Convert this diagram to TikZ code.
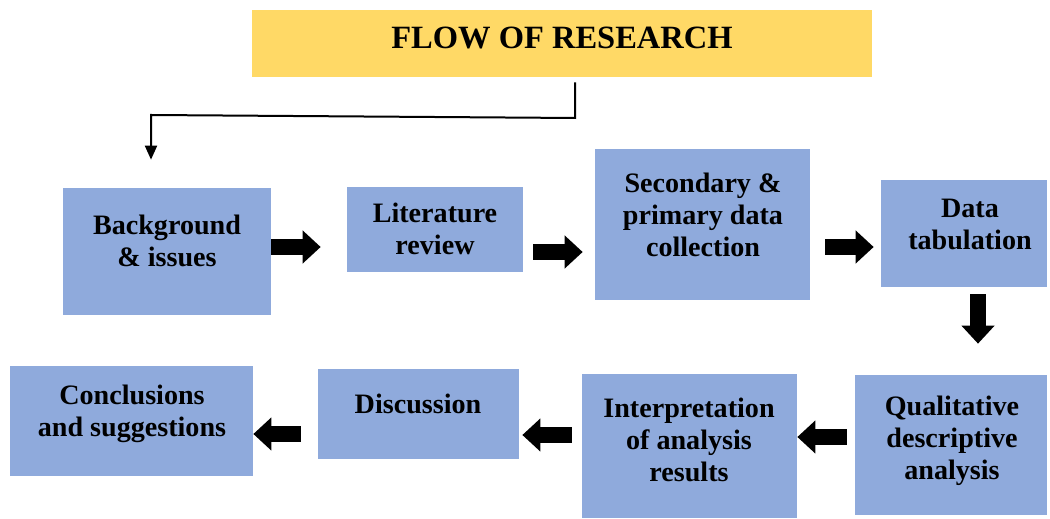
\documentclass[tikz,border=0pt]{standalone}
\usepackage{fontspec}
\setmainfont{Liberation Serif}
\usetikzlibrary{arrows.meta}

\definecolor{boxblue}{HTML}{8FAADC}
\definecolor{titleyellow}{HTML}{FFD966}

\tikzset{
  stepbox/.style={fill=boxblue, inner sep=0pt},
  steptext/.style={align=center, font=\fontsize{16}{18.2}\selectfont\bfseries},
  blockarrow/.style={line width=0.32cm, -{Triangle[length=0.36cm,width=0.64cm]}},
}

\begin{document}
\begin{tikzpicture}[x=0.02cm, y=-0.02cm]
  \useasboundingbox (0,0) rectangle (1050,519);

  % title
  \node (titlebox) [fill=titleyellow, minimum width=12.4cm, minimum height=1.34cm] at (562,43.5) {};
  \node (title) at (562,38) {\fontsize{18.5}{20}\selectfont\bfseries FLOW OF RESEARCH};

  % boxes
  \node (bgbox) [stepbox, minimum width=4.16cm, minimum height=2.54cm] at (167,251.5) {};
  \node (litbox) [stepbox, minimum width=3.52cm, minimum height=1.70cm] at (435,229.5) {};
  \node (secbox) [stepbox, minimum width=4.30cm, minimum height=3.02cm] at (702.5,224.5) {};
  \node (tabbox) [stepbox, minimum width=3.32cm, minimum height=2.14cm] at (964,233.5) {};
  \node (qualbox) [stepbox, minimum width=3.84cm, minimum height=2.80cm] at (951,445) {};
  \node (interpbox) [stepbox, minimum width=4.30cm, minimum height=2.88cm] at (689.5,446) {};
  \node (discbox) [stepbox, minimum width=4.02cm, minimum height=1.80cm] at (418.5,414) {};
  \node (conclbox) [stepbox, minimum width=4.86cm, minimum height=2.20cm] at (131.5,421) {};

  % texts
  \node (bg) [steptext] at (167,241) {Background\\\& issues};
  \node (lit) [steptext] at (435,229) {Literature\\review};
  \node (sec) [steptext] at (703,215) {Secondary \&\\primary data\\collection};
  \node (tab) [steptext] at (970,224) {Data\\tabulation};
  \node (qual) [steptext] at (952,441) {Qualitative\\descriptive\\analysis};
  \node (interp) [steptext] at (689,440) {Interpretation\\of analysis\\results};
  \node (disc) [steptext] at (418,404) {Discussion};
  \node (concl) [steptext] at (132,414) {Conclusions\\and suggestions};

  % arrows
  \draw[line width=0.04cm, -{Triangle[length=0.28cm,width=0.24cm]}, shorten <=0.1cm, shorten >=0.56cm]
    (titlebox.south -| 575,0) -- (575,118) -- (151,115) -- (bgbox.north -| 151,0);
  \draw[blockarrow, shorten >=0.52cm] (bgbox.east |- 0,247) -- (litbox.west |- 0,247);
  \draw[blockarrow, shorten <=0.2cm, shorten >=0.24cm] (litbox.east |- 0,252) -- (secbox.west |- 0,252);
  \draw[blockarrow, shorten <=0.3cm, shorten >=0.14cm] (secbox.east |- 0,247) -- (tabbox.west |- 0,247);
  \draw[blockarrow, shorten <=0.14cm, shorten >=0.62cm] (tabbox.south -| 978,0) -- (qualbox.north -| 978,0);
  \draw[blockarrow, shorten <=0.16cm] (qualbox.west |- 0,437) -- (interpbox.east |- 0,437);
  \draw[blockarrow, shorten <=0.2cm, shorten >=0.06cm] (interpbox.west |- 0,435) -- (discbox.east |- 0,435);
  \draw[blockarrow, shorten <=0.34cm] (discbox.west |- 0,434) -- (conclbox.east |- 0,434);
\end{tikzpicture}
\end{document}
